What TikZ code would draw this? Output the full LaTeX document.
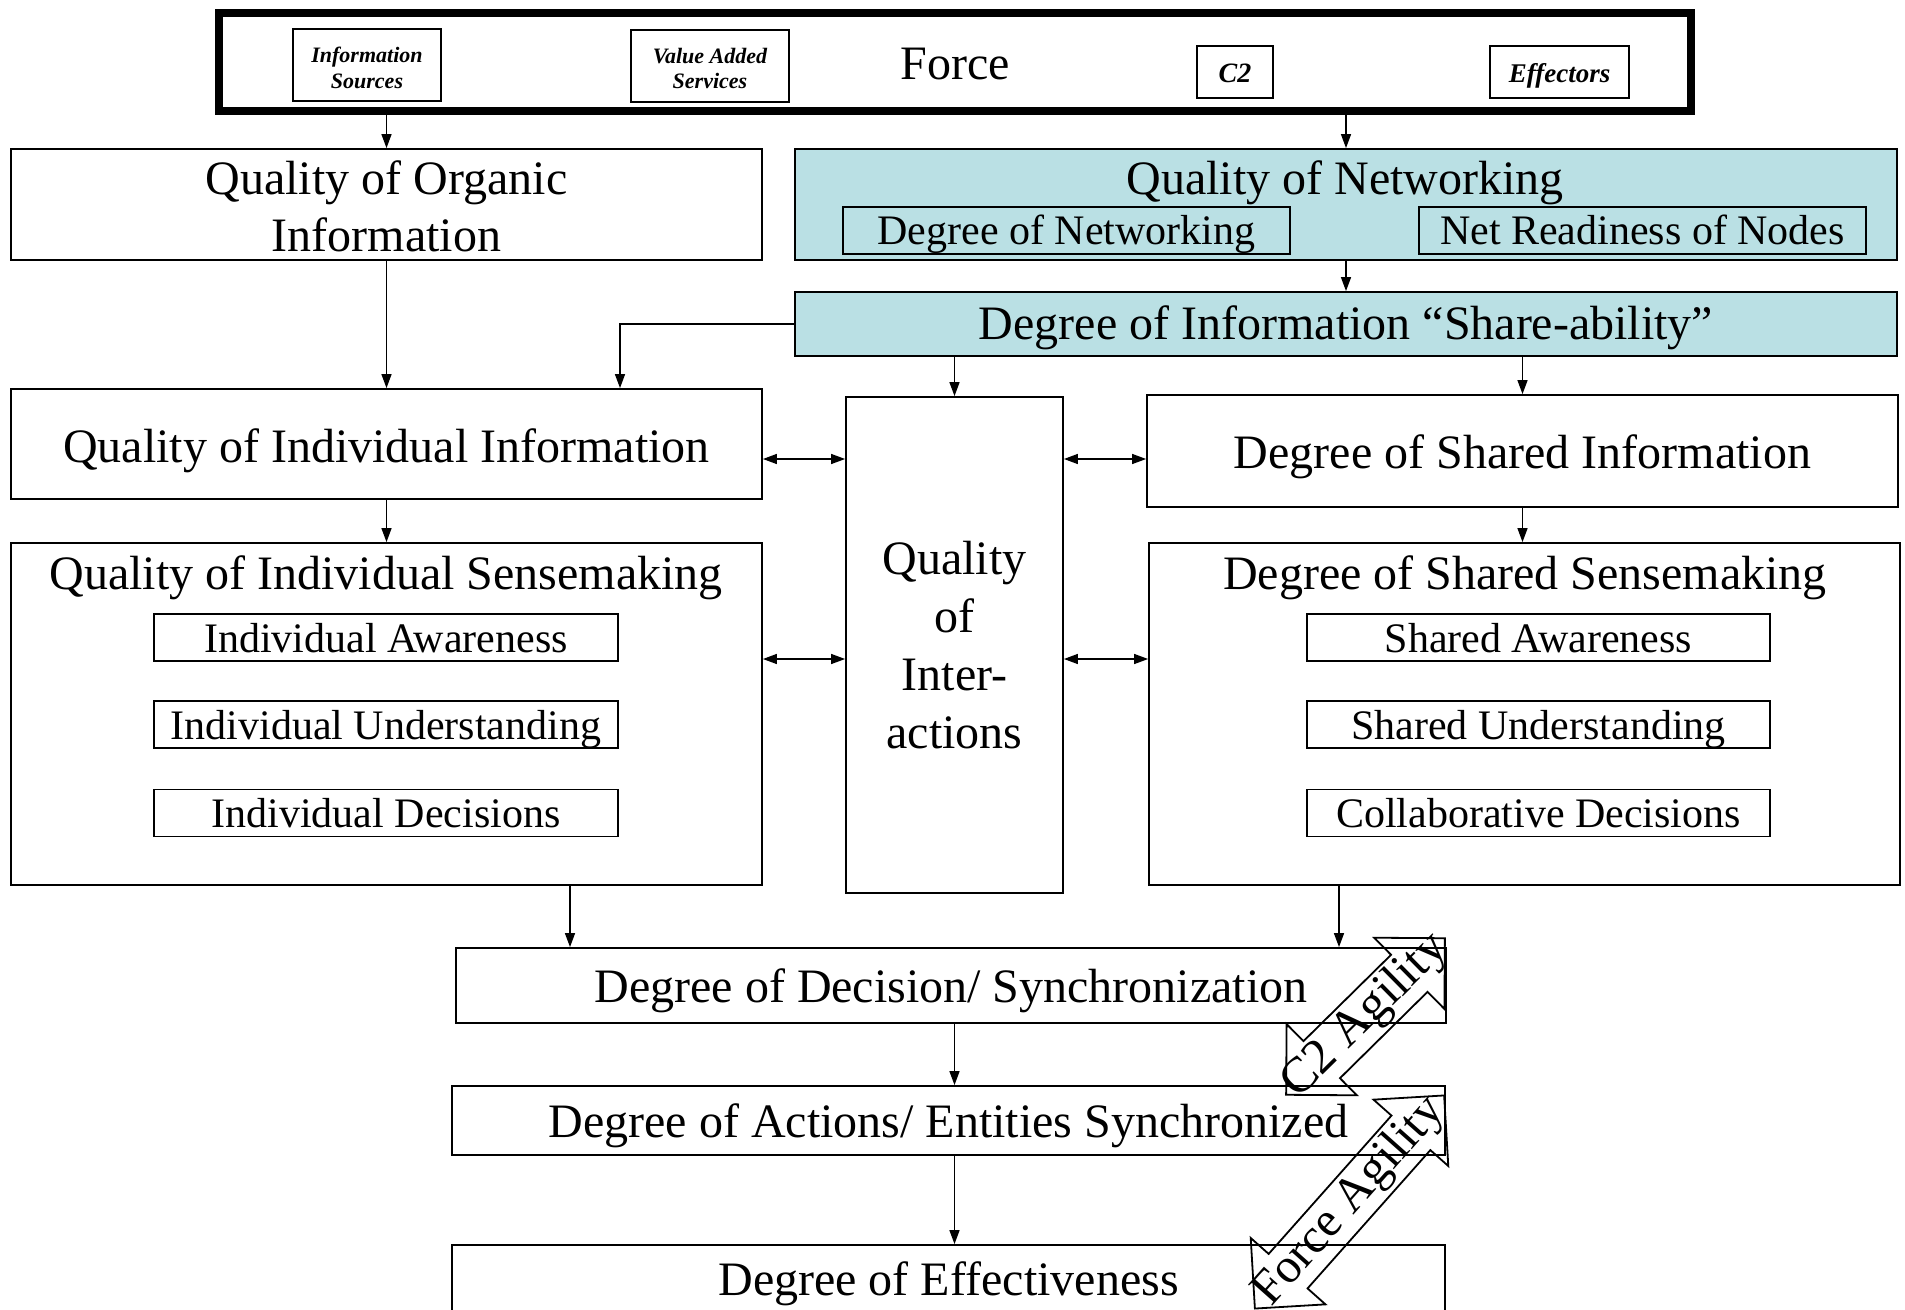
\documentclass[tikz,border=0pt]{standalone}
\usepackage{fontspec}
\setmainfont{Liberation Serif}
\usetikzlibrary{arrows.meta}
\definecolor{netfill}{RGB}{186,224,228}
\tikzset{
  box/.style={draw, line width=0.9pt, inner sep=0pt, align=center,
    font=\fontsize{24}{28.5}\selectfont},
  onebox/.style={box, text height=17.2pt, text depth=0pt},
  subbox/.style={draw, line width=0.9pt, inner sep=0pt, minimum height=23.5pt,
    text height=14.5pt, text depth=0pt, font=\fontsize{21}{25}\selectfont},
  srcbox/.style={draw, line width=0.9pt, inner sep=0pt, align=center,
    font=\fontsize{11}{12.8}\selectfont\bfseries\itshape},
  title/.style={inner sep=0pt, font=\fontsize{24}{28.5}\selectfont},
  arr/.style={line width=0.7pt, -{Triangle[length=7pt,width=5pt]}},
  darr/.style={line width=0.7pt, {Triangle[length=7pt,width=5pt]}-{Triangle[length=7pt,width=5pt]}},
  agility/.style={draw, line width=0.9pt, line join=miter},
}
\begin{document}
\begin{tikzpicture}[x=0.5pt,y=-0.5pt]
\useasboundingbox (0,0) rectangle (1905,1310);

% the force frame and its elements
\node[onebox, text height=18pt, minimum width=736pt, minimum height=49pt, line width=4pt] (force) at (955,62) {Force};
\node[srcbox, minimum width=74pt, minimum height=36pt] (infosrc) at (367,65) {\rule{0pt}{10.5pt}Information\\Sources};
\node[srcbox, minimum width=79pt, minimum height=36pt] (vas) at (710,66) {\rule{0pt}{10pt}Value Added\\Services};
\node[srcbox, minimum width=38pt, minimum height=26pt, text height=11pt, text depth=0pt, font=\fontsize{14}{16}\selectfont\bfseries\itshape] (c2) at (1235,72) {C2};
\node[srcbox, minimum width=69.5pt, minimum height=26pt, text height=11pt, text depth=0pt, font=\fontsize{13.5}{15}\selectfont\bfseries\itshape] (eff) at (1559.5,72) {Effectors};

% information level
\node[box, minimum width=375.5pt, minimum height=55.5pt] (qoi) at (386.5,204.5) {\rule{0pt}{19.2pt}Quality of Organic\\Information};
\node[box, fill=netfill, minimum width=551pt, minimum height=55.5pt] (qon) at (1346,204.5) {};
\node[title] (qontitle) at (1345,183) {Quality of Networking};
\node[subbox, minimum width=223.5pt] (don) at (1066.5,230.5) {Degree of Networking};
\node[subbox, minimum width=223.5pt] (nrn) at (1642.5,230.5) {Net Readiness of Nodes};
\node[onebox, text height=16pt, fill=netfill, minimum width=551pt, minimum height=32pt] (share) at (1346,324) {Degree of Information “Share-ability”};

\node[onebox, text height=18.4pt, minimum width=375.5pt, minimum height=55pt] (qii) at (386.5,444) {Quality of Individual Information};
\node[box, minimum width=108.5pt, minimum height=248pt, font=\fontsize{24}{29}\selectfont] (qint) at (954.5,645) {Quality\\of\\Inter-\\actions};
\node[onebox, minimum width=375.5pt, minimum height=56pt] (dsi) at (1522.5,451) {Degree of Shared Information};

% sensemaking level
\node[box, minimum width=375.5pt, minimum height=171pt] (qis) at (386.5,714) {};
\node[title] (qistitle) at (386,578) {Quality of Individual Sensemaking};
\node[subbox, minimum width=232pt] (ia) at (386,637.5) {Individual Awareness};
\node[subbox, minimum width=232pt] (iu) at (386,724.5) {Individual Understanding};
\node[subbox, minimum width=232pt] (id) at (386,813) {Individual Decisions};

\node[box, minimum width=375.5pt, minimum height=171pt] (dss) at (1524.5,714) {};
\node[title] (dsstitle) at (1525,578) {Degree of Shared Sensemaking};
\node[subbox, minimum width=231.5pt] (sa) at (1538.5,637.5) {Shared Awareness};
\node[subbox, minimum width=231.5pt] (su) at (1538.5,724.5) {Shared Understanding};
\node[subbox, minimum width=231.5pt] (cd) at (1538.5,813) {Collaborative Decisions};

% outcome level
\node[onebox, minimum width=495pt, minimum height=37.5pt] (dds) at (951,985.5) {Degree of Decision/ Synchronization};
\node[onebox, minimum width=496.5pt, minimum height=34.5pt] (daes) at (948.5,1120.5) {Degree of Actions/ Entities Synchronized};
\node[onebox, text height=14.8pt, minimum width=496.5pt, minimum height=36pt] (doe) at (948.5,1281) {Degree of Effectiveness};

% helper coordinates for routing
\coordinate (xS) at (620,0);
\coordinate (xL) at (570,0);
\coordinate (xR) at (1339,0);
\coordinate (yA) at (0,459);
\coordinate (yB) at (0,659);

% connectors
\draw[arr] (force.south -| qoi.north) -- (qoi.north);
\draw[arr] (force.south -| qon.north) -- (qon.north);
\draw[arr] (qon.south) -- (share.north);
\draw[arr] (qoi.south) -- (qii.north);
\draw[arr] (share.west) -| (xS |- qii.north);
\draw[arr] (share.south -| qint.north) -- (qint.north);
\draw[arr] (share.south -| dsi.north) -- (dsi.north);
\draw[darr] (qii.east |- yA) -- (qint.west |- yA);
\draw[darr] (qint.east |- yA) -- (dsi.west |- yA);
\draw[darr] (qis.east |- yB) -- (qint.west |- yB);
\draw[darr] (qint.east |- yB) -- (dss.west |- yB);
\draw[arr] (qii.south) -- (qis.north);
\draw[arr] (dsi.south) -- (dsi.south |- dss.north);
\draw[arr] (qis.south -| xL) -- (dds.north -| xL);
\draw[arr] (dss.south -| xR) -- (dds.north -| xR);
\draw[arr] (dds.south -| qint.south) -- (daes.north -| qint.south);
\draw[arr] (daes.south -| qint.south) -- (doe.north -| qint.south);

% agility block arrows
\begin{scope}[shift={(1365.5,1016.5)}, rotate=44.6]
  \draw[agility] (55.75pt,0) -- (30.75pt,25pt) -- (30.75pt,13pt) -- (-30.75pt,13pt)
    -- (-30.75pt,25pt) -- (-55.75pt,0) -- (-30.75pt,-25pt) -- (-30.75pt,-13pt)
    -- (30.75pt,-13pt) -- (30.75pt,-25pt) -- cycle;
  \node[title, font=\fontsize{25}{29}\selectfont, rotate=44.6] (c2ag) at (0,0) {C2 Agility};
\end{scope}
\begin{scope}[shift={(1349.5,1202)}, rotate=48.4]
  \draw[agility] (71.25pt,0) -- (46.25pt,25pt) -- (46.25pt,13pt) -- (-46.25pt,13pt)
    -- (-46.25pt,25pt) -- (-71.25pt,0) -- (-46.25pt,-25pt) -- (-46.25pt,-13pt)
    -- (46.25pt,-13pt) -- (46.25pt,-25pt) -- cycle;
  \node[title, font=\fontsize{24.5}{29}\selectfont, rotate=48.4] (forceag) at (0,0) {Force Agility};
\end{scope}
\end{tikzpicture}
\end{document}
